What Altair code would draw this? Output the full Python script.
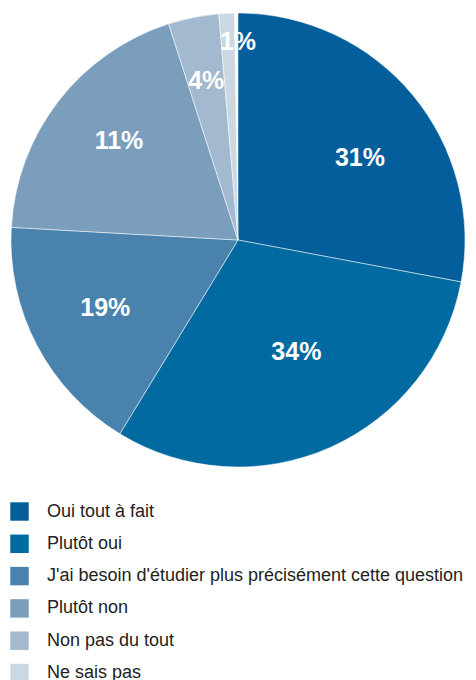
import altair as alt
import pandas as pd

categories = [
    "Oui tout à fait",
    "Plutôt oui",
    "J'ai besoin d'étudier plus précisément cette question",
    "Plutôt non",
    "Non pas du tout",
    "Ne sais pas",
]
values = [28.0, 30.8, 17.2, 19.2, 3.6, 1.1]
labels = ["31%", "34%", "19%", "11%", "4%", "1%"]
colors = ["#045e9b", "#006aa1", "#4882ad", "#7b9ebd", "#a3b9cf", "#cbd8e4"]

# label placement (layout only): distance from pie centre in px and
# angular nudge from the slice midpoint, in value units
label_radius = [147, 126, 149, 155, 162, 198]
label_shift = [1.6, -1.0, 0.2, 0.6, 0.0, 0.8]

df = pd.DataFrame({
    "cat": categories,
    "value": values,
    "label": labels,
    "idx": list(range(len(categories))),
    "lr": label_radius,
    "shift": label_shift,
})

base = alt.Chart(df)

pie = base.mark_arc(outerRadius=227, stroke="white", strokeWidth=0.5).encode(
    theta=alt.Theta("value:Q", stack=True),
    order=alt.Order("idx:Q"),
    color=alt.Color(
        "cat:N",
        sort=categories,
        scale=alt.Scale(domain=categories, range=colors),
        legend=alt.Legend(
            title=None,
            orient="none",
            legendX=2,
            legendY=494,
            direction="vertical",
            symbolType="square",
            symbolSize=340,
            symbolStrokeWidth=0,
            labelFont="Liberation Sans",
            labelFontSize=18,
            labelColor="#222222",
            labelOffset=18,
            rowPadding=13.3,
            padding=0,
            labelLimit=420,
        ),
    ),
)

text = (
    base.transform_window(cum="sum(value)", sort=[alt.SortField("idx")])
    .transform_calculate(mid="datum.cum - datum.value / 2 + datum.shift")
    .mark_text(font="Liberation Sans", fontSize=25, fontWeight="bold", color="white")
    .encode(
        theta=alt.Theta("mid:Q", stack=None),
        radius=alt.Radius("lr:Q", scale=None),
        text="label:N",
    )
)

chart = (
    alt.layer(pie, text)
    .properties(width=460, height=464, padding=0)
    .configure_view(stroke=None)
)

chart.save("out.html", embed_options={"renderer": "svg", "actions": False})
